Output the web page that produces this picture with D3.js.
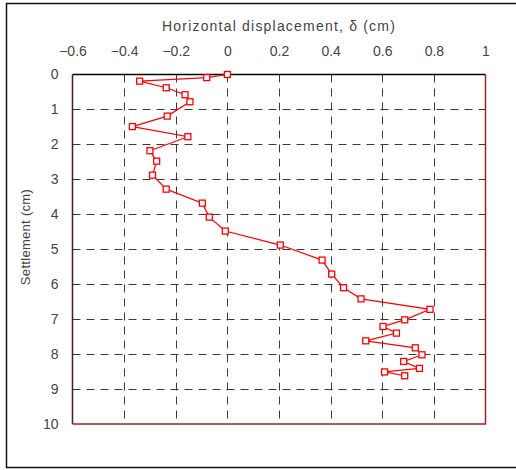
<!DOCTYPE html>
<html>
<head>
<meta charset="utf-8">
<script src="https://cdn.jsdelivr.net/npm/d3@7"></script>
<style>
  body { margin: 0; background: #fff; }
  svg { display: block; font-family: "Liberation Sans", Arial, sans-serif; }
</style>
</head>
<body>
<svg id="chart" width="516" height="470"></svg>
<script>
// horizontal displacement (cm) vs settlement (cm)
const displacement = [0, -0.08, -0.34, -0.237, -0.164, -0.145, -0.233, -0.368, -0.153, -0.3, -0.274, -0.29,
  -0.237, -0.097, -0.07, -0.008, 0.205, 0.367, 0.404, 0.45, 0.518, 0.785, 0.687, 0.603, 0.655, 0.536,
  0.728, 0.754, 0.683, 0.744, 0.609, 0.687];
const settlement = [0, 0.09, 0.19, 0.38, 0.58, 0.78, 1.19, 1.49, 1.78, 2.18, 2.48, 2.88,
  3.28, 3.68, 4.08, 4.48, 4.88, 5.31, 5.71, 6.1, 6.42, 6.72, 7.02, 7.21, 7.4, 7.62,
  7.82, 8.02, 8.21, 8.41, 8.51, 8.62];
const xTicks = [-0.6, -0.4, -0.2, 0, 0.2, 0.4, 0.6, 0.8, 1];
const xTickLabels = ['\u22120.6', '\u22120.4', '\u22120.2', '0', '0.2', '0.4', '0.6', '0.8', '1'];
const yTicks = [0, 1, 2, 3, 4, 5, 6, 7, 8, 9, 10];

const svg = d3.select('#chart');
const M = { left: 72.5, top: 74.5, right: 485.5, bottom: 424 };

const x = d3.scaleLinear().domain([-0.6, 1]).range([M.left, M.right]);
const y = d3.scaleLinear().domain([0, 10]).range([M.top, M.bottom]);

// outer frame of the figure
svg.append('path')
  .attr('d', 'M520,3.5 H6.5 V467.5 H520')
  .attr('fill', 'none')
  .attr('stroke', '#111')
  .attr('stroke-width', 1.5);

// dashed grid
const grid = svg.append('g').attr('class', 'grid')
  .attr('stroke', '#3a3a3a').attr('stroke-width', 1).attr('stroke-dasharray', '8,6');
grid.selectAll('line.v')
  .data(xTicks.slice(1, -1))
  .join('line')
  .attr('class', 'v')
  .attr('x1', d => Math.round(x(d)) + 0.5)
  .attr('x2', d => Math.round(x(d)) + 0.5)
  .attr('y1', M.top)
  .attr('y2', M.bottom);
grid.selectAll('line.h')
  .data(yTicks.slice(1, -1))
  .join('line')
  .attr('class', 'h')
  .attr('x1', M.left)
  .attr('x2', M.right)
  .attr('y1', d => Math.round(y(d)) + 0.5)
  .attr('y2', d => Math.round(y(d)) + 0.5);

// axes (labels only, frame drawn separately)
const xAxis = d3.axisTop(x)
  .tickValues(xTicks)
  .tickSize(0)
  .tickPadding(19)
  .tickFormat((d, i) => xTickLabels[i]);
svg.append('g')
  .attr('transform', `translate(0,${M.top})`)
  .call(xAxis)
  .call(g => g.select('.domain').remove())
  .call(g => g.selectAll('text').attr('fill', '#444').attr('font-size', 14));

const yAxis = d3.axisLeft(y)
  .tickValues(yTicks)
  .tickSize(0)
  .tickPadding(14)
  .tickFormat(d3.format('d'));
svg.append('g')
  .attr('transform', `translate(${M.left},0)`)
  .call(yAxis)
  .call(g => g.select('.domain').remove())
  .call(g => g.selectAll('text').attr('fill', '#444').attr('font-size', 14));

// plot frame
svg.append('line')
  .attr('x1', M.left).attr('x2', M.right).attr('y1', M.top).attr('y2', M.top)
  .attr('stroke', '#000').attr('stroke-width', 1.5);
svg.append('line')
  .attr('x1', M.left).attr('x2', M.left).attr('y1', M.top).attr('y2', M.bottom)
  .attr('stroke', '#4a1e1e').attr('stroke-width', 1.5);
svg.append('path')
  .attr('d', `M${M.right},${M.top} V${M.bottom} H${M.left}`)
  .attr('fill', 'none')
  .attr('stroke', '#a32020').attr('stroke-width', 1.5);

// titles
svg.append('text')
  .attr('x', (M.left + M.right) / 2)
  .attr('y', 31)
  .attr('text-anchor', 'middle')
  .attr('font-size', 14)
  .attr('letter-spacing', 1.2)
  .attr('fill', '#444')
  .text('Horizontal displacement, \u03b4 (cm)');

svg.append('text')
  .attr('transform', `translate(29.5,237) rotate(-90)`)
  .attr('text-anchor', 'middle')
  .attr('font-size', 13)
  .attr('letter-spacing', 0.3)
  .attr('fill', '#444')
  .text('Settlement (cm)');

// data series
const pts = displacement.map((d, i) => [d, settlement[i]]);
const line = d3.line().x(d => x(d[0])).y(d => y(d[1]));
svg.append('path')
  .datum(pts)
  .attr('d', line)
  .attr('fill', 'none')
  .attr('stroke', '#ff0000')
  .attr('stroke-width', 1.2);
svg.append('g').selectAll('rect')
  .data(pts)
  .join('rect')
  .attr('x', d => x(d[0]) - 3)
  .attr('y', d => y(d[1]) - 3)
  .attr('width', 6)
  .attr('height', 6)
  .attr('fill', '#fff')
  .attr('stroke', '#ff0000')
  .attr('stroke-width', 1.3);
</script>
</body>
</html>
